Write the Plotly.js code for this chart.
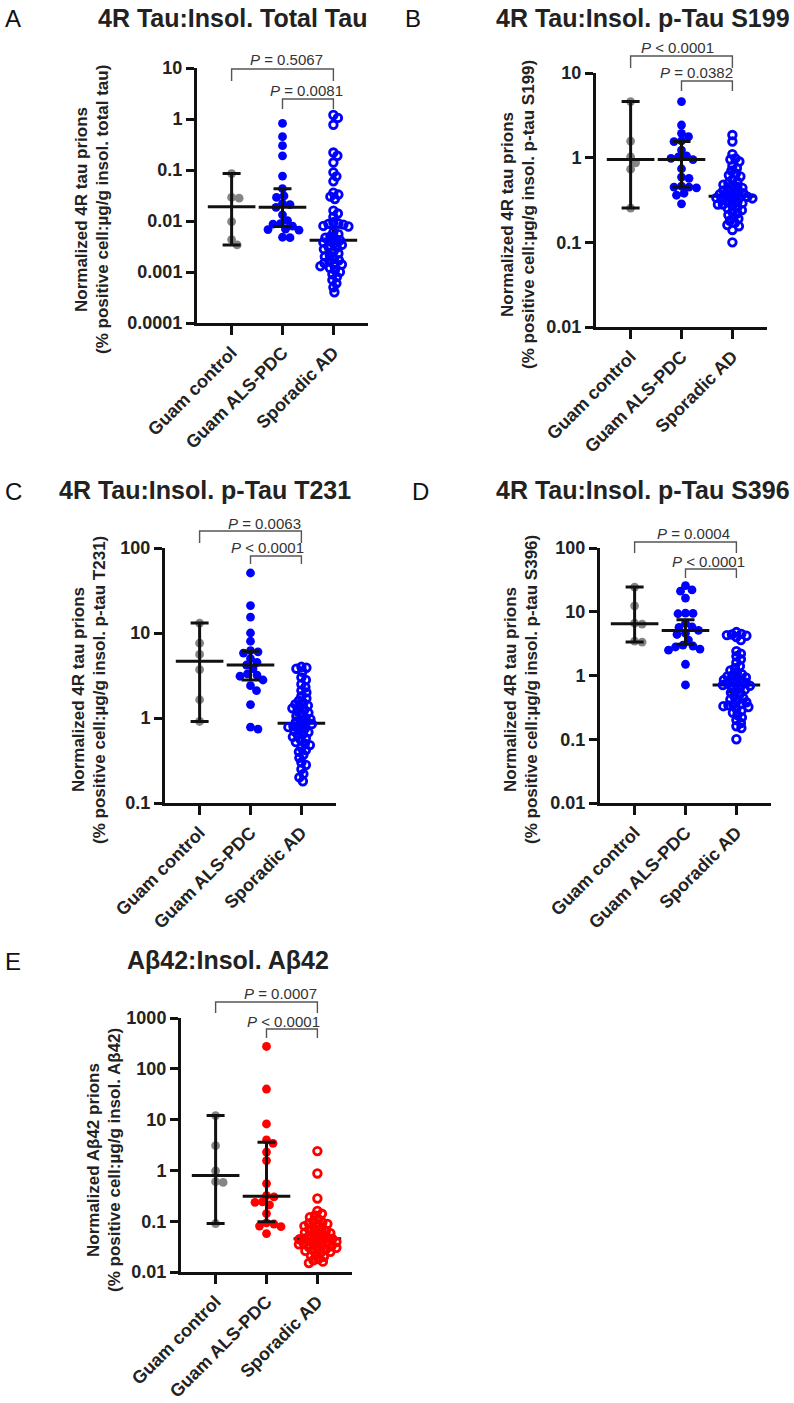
<!DOCTYPE html>
<html>
<head>
<meta charset="utf-8">
<script src="https://cdn.plot.ly/plotly-3.0.1.min.js"></script>
<style>html,body{margin:0;padding:0;background:#fff;}#chart{width:794px;height:1403px;}</style>
</head>
<body>
<div id="chart"></div>
<script>
// ---------------- DATA ----------------
const categories = ['Guam control', 'Guam ALS-PDC', 'Sporadic AD'];

const titles = ['4R Tau:Insol. Total Tau', '4R Tau:Insol. p-Tau S199', '4R Tau:Insol. p-Tau T231', '4R Tau:Insol. p-Tau S396', 'A\u03b242:Insol. A\u03b242'];
const letters = ['A', 'B', 'C', 'D', 'E'];
const yTitle1 = ['Normalized 4R tau prions', 'Normalized 4R tau prions', 'Normalized 4R tau prions', 'Normalized 4R tau prions', 'Normalized A\u03b242 prions'];
const yTitle2 = ['(% positive cell:\u00b5g/g insol. total tau)', '(% positive cell:\u00b5g/g insol. p-tau S199)', '(% positive cell:\u00b5g/g insol. p-tau T231)', '(% positive cell:\u00b5g/g insol. p-tau S396)', '(% positive cell:\u00b5g/g insol. A\u03b242)'];

// tick values / labels
const A_ticks = [0.0001, 0.001, 0.01, 0.1, 1, 10];
const A_tickText = ['0.0001', '0.001', '0.01', '0.1', '1', '10'];
const B_ticks = [0.01, 0.1, 1, 10];
const B_tickText = ['0.01', '0.1', '1', '10'];
const C_ticks = [0.1, 1, 10, 100];
const C_tickText = ['0.1', '1', '10', '100'];
const D_ticks = [0.01, 0.1, 1, 10, 100];
const D_tickText = ['0.01', '0.1', '1', '10', '100'];
const E_ticks = [0.01, 0.1, 1, 10, 100, 1000];
const E_tickText = ['0.01', '0.1', '1', '10', '100', '1000'];

// Panel A
const A_control = [0.085, 0.029, 0.028, 0.0097, 0.0043, 0.0034];
const A_als = [0.82, 0.45, 0.30, 0.19, 0.076, 0.043, 0.031, 0.029, 0.022, 0.021, 0.0185, 0.0132, 0.0102, 0.0089, 0.0087, 0.0079, 0.0069, 0.0068, 0.0066, 0.0048, 0.0047];
const A_ad = [1.2, 1.05, 0.77, 0.22, 0.19, 0.14, 0.09, 0.075, 0.06, 0.036, 0.033, 0.03, 0.027, 0.016, 0.014, 0.012, 0.0095, 0.009, 0.0088, 0.0085, 0.008, 0.0078, 0.006, 0.0055, 0.005, 0.0047, 0.0045, 0.0042,
  0.004, 0.0038, 0.0036, 0.0034, 0.0032, 0.003, 0.0028, 0.0025, 0.0023, 0.0021, 0.002, 0.0018, 0.0017, 0.0016, 0.0015, 0.0014, 0.0014, 0.0013, 0.0012, 0.0011, 0.001, 0.0009, 0.0008, 0.0007, 0.0006, 0.0005, 0.0004];
const A_median = [0.019, 0.0185, 0.0042];
const A_low = [0.0034, 0.0078, 0.0028];
const A_high = [0.085, 0.043, 0.0075];
const A_pvals = ['= 0.5067', '= 0.0081'];

// Panel B
const B_control = [4.6, 1.57, 1.02, 0.87, 0.73, 0.254];
const B_als = [4.6, 2.43, 1.94, 1.77, 1.58, 1.55, 1.23, 1.05, 1.02, 0.98, 0.95, 0.74, 0.59, 0.57, 0.46, 0.45, 0.45, 0.44, 0.38, 0.36, 0.285];
const B_ad = [1.85, 1.55, 1.1, 0.98, 0.95, 0.9, 0.8, 0.75, 0.7, 0.65, 0.62, 0.6, 0.55, 0.52, 0.5, 0.48, 0.46, 0.45, 0.44, 0.42, 0.41, 0.4, 0.39, 0.38, 0.37, 0.36, 0.355,
  0.35, 0.345, 0.34, 0.335, 0.33, 0.32, 0.31, 0.3, 0.3, 0.29, 0.28, 0.28, 0.27, 0.26, 0.25, 0.24, 0.23, 0.22, 0.21, 0.2, 0.19, 0.18, 0.17, 0.16, 0.155, 0.14, 0.1];
const B_median = [0.95, 0.95, 0.35];
const B_low = [0.254, 0.45, 0.31];
const B_high = [4.6, 1.55, 0.40];
const B_pvals = ['< 0.0001', '= 0.0382'];

// Panel C
const C_control = [13.1, 7.6, 5.6, 3.7, 1.64, 0.91];
const C_als = [50.8, 21, 15.4, 10, 8.0, 6.2, 6.0, 5.8, 5.0, 4.5, 4.2, 3.8, 3.3, 3.2, 3.1, 2.8, 2.4, 2.1, 1.44, 0.78, 0.74];
const C_ad = [4.0, 3.9, 3.8, 3.5, 3.0, 2.8, 2.5, 2.3, 2.1, 2.0, 1.8, 1.7, 1.6, 1.5, 1.45, 1.4, 1.35, 1.3, 1.25, 1.2, 1.15, 1.1, 1.05, 1.0, 0.97, 0.94, 0.9, 0.87,
  0.85, 0.82, 0.8, 0.78, 0.75, 0.72, 0.7, 0.68, 0.65, 0.63, 0.6, 0.58, 0.55, 0.52, 0.5, 0.48, 0.45, 0.42, 0.4, 0.37, 0.34, 0.3, 0.28, 0.25, 0.22, 0.2, 0.18];
const C_median = [4.65, 4.2, 0.87];
const C_low = [0.91, 2.8, 0.75];
const C_high = [13.1, 6.1, 1.0];
const C_pvals = ['= 0.0063', '< 0.0001'];

// Panel D
const D_control = [24.4, 12.4, 6.6, 6.4, 3.45, 3.35];
const D_als = [25.6, 22, 21, 16.4, 9.5, 9.4, 9.3, 6.6, 5.8, 5.7, 5.1, 4.6, 4.4, 3.6, 3.0, 2.9, 2.8, 2.6, 2.5, 1.5, 0.71];
const D_ad = [4.8, 4.5, 4.4, 4.3, 4.2, 4.0, 3.6, 2.4, 2.2, 2.0, 1.8, 1.6, 1.4, 1.3, 1.2, 1.1, 1.05, 1.0, 0.97, 0.93, 0.9, 0.85, 0.82, 0.8, 0.77, 0.75, 0.73, 0.71,
  0.69, 0.67, 0.64, 0.6, 0.57, 0.54, 0.5, 0.47, 0.44, 0.42, 0.4, 0.38, 0.36, 0.35, 0.34, 0.33, 0.32, 0.3, 0.28, 0.26, 0.24, 0.22, 0.2, 0.18, 0.16, 0.15, 0.1];
const D_median = [6.5, 5.1, 0.71];
const D_low = [3.35, 3.1, 0.55];
const D_high = [24.4, 7.5, 0.9];
const D_pvals = ['= 0.0004', '< 0.0001'];

// Panel E
const E_control = [12, 3.07, 0.98, 0.6, 0.58, 0.09];
const E_als = [275, 40, 8.2, 4.0, 3.4, 2.3, 1.56, 0.55, 0.32, 0.30, 0.24, 0.235, 0.21, 0.141, 0.093, 0.088, 0.08, 0.078, 0.057];
const E_ad = [2.4, 0.87, 0.28, 0.16, 0.14, 0.13, 0.12, 0.11, 0.1, 0.095, 0.09, 0.088, 0.085, 0.08, 0.075, 0.07, 0.068, 0.065, 0.062, 0.06, 0.058, 0.055, 0.053, 0.05, 0.048, 0.047, 0.046,
  0.045, 0.044, 0.043, 0.042, 0.04, 0.039, 0.038, 0.037, 0.036, 0.035, 0.034, 0.033, 0.032, 0.031, 0.03, 0.029, 0.028, 0.027, 0.026, 0.025, 0.024, 0.022, 0.021, 0.02, 0.018, 0.017, 0.016, 0.015];
const E_median = [0.79, 0.31, 0.045];
const E_low = [0.09, 0.098, 0.037];
const E_high = [12, 3.6, 0.055];
const E_pvals = ['= 0.0007', '< 0.0001'];

// ---------------- LAYOUT / STYLE ----------------
const W = 794, H = 1403;
const FONT = 'Liberation Sans, Arial, Helvetica, sans-serif';
const XR = [-0.68, 2.68];
const PW = 171;               // plot width px
const PXU = PW / (XR[1] - XR[0]);
const groupColors = ['#858585', '#0000ff', '#0000ff'];
const groupColorsE = ['#858585', '#ff0000', '#ff0000'];

const panels = [
  {data: [A_control, A_als, A_ad], med: A_median, lo: A_low, hi: A_high, ticks: A_ticks, tickText: A_tickText, pv: A_pvals,
   l: 197, top: 68, bottom: 323, colors: groupColors,
   titlePos: [233, 18], letterPos: [13, 19], yt: [82, 103, 210],
   br: [{a: 0, b: 2, line: 69, drop: 81, tx: 286, ty: 60}, {a: 1, b: 2, line: 99, drop: 109, tx: 306, ty: 90}]},
  {data: [B_control, B_als, B_ad], med: B_median, lo: B_low, hi: B_high, ticks: B_ticks, tickText: B_tickText, pv: B_pvals,
   l: 596, top: 73, bottom: 327, colors: groupColors,
   titlePos: [643, 18], letterPos: [413, 19], yt: [507, 528, 215],
   br: [{a: 0, b: 2, line: 56, drop: 68, tx: 677, ty: 47}, {a: 1, b: 2, line: 81, drop: 91, tx: 696, ty: 73}]},
  {data: [C_control, C_als, C_ad], med: C_median, lo: C_low, hi: C_high, ticks: C_ticks, tickText: C_tickText, pv: C_pvals,
   l: 165, top: 548, bottom: 803, colors: groupColors,
   titlePos: [205, 490], letterPos: [13, 491], yt: [78, 99, 690],
   br: [{a: 0, b: 2, line: 531, drop: 543, tx: 264, ty: 523}, {a: 1, b: 2, line: 556, drop: 564, tx: 267, ty: 548}]},
  {data: [D_control, D_als, D_ad], med: D_median, lo: D_low, hi: D_high, ticks: D_ticks, tickText: D_tickText, pv: D_pvals,
   l: 600, top: 548, bottom: 803, colors: groupColors,
   titlePos: [643, 490], letterPos: [420, 491], yt: [510, 531, 690],
   br: [{a: 0, b: 2, line: 542, drop: 553, tx: 693, ty: 533}, {a: 1, b: 2, line: 569, drop: 578, tx: 708, ty: 561}]},
  {data: [E_control, E_als, E_ad], med: E_median, lo: E_low, hi: E_high, ticks: E_ticks, tickText: E_tickText, pv: E_pvals,
   l: 181, top: 1018, bottom: 1272, colors: groupColorsE,
   titlePos: [228, 960], letterPos: [13, 961], yt: [93, 114, 1160],
   br: [{a: 0, b: 2, line: 1002, drop: 1013, tx: 280, ty: 993}, {a: 1, b: 2, line: 1029, drop: 1038, tx: 283, ty: 1021}]}
];

// beeswarm offsets computed from values in pixel space
function swarm(values, yr, hPx, diam) {
  const pts = values.map((v, i) => ({i: i, py: (Math.log10(v) - yr[0]) / (yr[1] - yr[0]) * hPx}));
  pts.sort((a, b) => b.py - a.py);
  const placed = [];
  const off = new Array(values.length);
  for (const p of pts) {
    let best = 0;
    for (let k = 0; k < 800; k++) {
      const x = Math.ceil(k / 2) * 0.5 * (k % 2 ? 1 : -1);
      let ok = true;
      for (const q of placed) {
        const dx = x - q.x, dy = p.py - q.py;
        if (dx * dx + dy * dy < diam * diam - 0.01) { ok = false; break; }
      }
      if (ok) { best = x; break; }
    }
    placed.push({x: best, py: p.py});
    off[p.i] = best / PXU;
  }
  return off;
}

const traces = [];
const layout = {
  width: W, height: H, margin: {l: 0, r: 0, t: 0, b: 0},
  paper_bgcolor: '#ffffff', plot_bgcolor: 'rgba(0,0,0,0)', showlegend: false,
  font: {family: FONT, color: '#1a1a1a'},
  annotations: [], shapes: []
};

panels.forEach((p, k) => {
  const s = k === 0 ? '' : String(k + 1);
  const yr = [Math.log10(p.ticks[0]), Math.log10(p.ticks[p.ticks.length - 1])];
  const hPx = p.bottom - p.top;
  layout['xaxis' + s] = {
    domain: [p.l / W, (p.l + PW) / W], range: XR, anchor: 'y' + s,
    tickmode: 'array', tickvals: [0, 1, 2], ticktext: categories, tickangle: -45,
    showline: true, linewidth: 3, linecolor: '#111', ticks: 'outside', ticklen: 9, tickwidth: 3, tickcolor: '#111',
    showgrid: false, zeroline: false, fixedrange: true,
    tickfont: {family: FONT, size: 18, color: '#222', weight: 'bold'}
  };
  layout['yaxis' + s] = {
    domain: [1 - p.bottom / H, 1 - p.top / H], type: 'log', range: yr, anchor: 'x' + s,
    tickmode: 'array', tickvals: p.ticks, ticktext: p.tickText,
    showline: true, linewidth: 3, linecolor: '#111', ticks: 'outside', ticklen: 8, tickwidth: 3, tickcolor: '#111',
    showgrid: false, zeroline: false, fixedrange: true,
    tickfont: {family: FONT, size: 18, color: '#222', weight: 'bold'}
  };
  const pointTrace = (g) => {
    const vals = p.data[g];
    const hollow = g === 2;
    const off = swarm(vals, yr, hPx, hollow ? 5.0 : 7.4);
    return {
      type: 'scatter', mode: 'markers', xaxis: 'x' + s, yaxis: 'y' + s,
      x: vals.map((v, i) => g + off[i]), y: vals, hoverinfo: 'y',
      marker: hollow
        ? {symbol: 'circle-open', size: 7.6, color: p.colors[g], line: {width: 2.8, color: p.colors[g]}}
        : {symbol: 'circle', size: 8.8, color: p.colors[g], line: {width: 0}}
    };
  };
  traces.push(pointTrace(0));
  traces.push(pointTrace(1));
  // median + interval
  traces.push({
    type: 'scatter', mode: 'markers', xaxis: 'x' + s, yaxis: 'y' + s,
    x: [0, 1, 2], y: p.med, hoverinfo: 'y',
    marker: {symbol: 'line-ew', size: 34, color: '#111', line: {width: 3, color: '#111'}},
    error_y: {type: 'data', symmetric: false, array: p.hi.map((h, i) => h - p.med[i]), arrayminus: p.lo.map((l, i) => p.med[i] - l),
      color: '#111', thickness: 3, width: 9}
  });
  traces.push(pointTrace(2));
  // title, letter, y titles
  layout.annotations.push({xref: 'paper', yref: 'paper', x: p.titlePos[0] / W, y: 1 - p.titlePos[1] / H, xanchor: 'center', yanchor: 'middle',
    text: '<b>' + titles[k] + '</b>', showarrow: false, font: {family: FONT, size: 25, color: '#222'}});
  layout.annotations.push({xref: 'paper', yref: 'paper', x: p.letterPos[0] / W, y: 1 - p.letterPos[1] / H, xanchor: 'center', yanchor: 'middle',
    text: letters[k], showarrow: false, font: {family: FONT, size: 24, color: '#111'}});
  layout.annotations.push({xref: 'paper', yref: 'paper', x: p.yt[0] / W, y: 1 - p.yt[2] / H, xanchor: 'center', yanchor: 'middle', textangle: -90,
    text: '<b>' + yTitle1[k] + '</b>', showarrow: false, font: {family: FONT, size: 17, color: '#222'}});
  layout.annotations.push({xref: 'paper', yref: 'paper', x: p.yt[1] / W, y: 1 - p.yt[2] / H, xanchor: 'center', yanchor: 'middle', textangle: -90,
    text: '<b>' + yTitle2[k] + '</b>', showarrow: false, font: {family: FONT, size: 17, color: '#222'}});
  // comparison brackets
  const catX = i => (p.l + (i - XR[0]) * PXU) / W;
  p.br.forEach((b, j) => {
    const xa = catX(b.a), xb = catX(b.b);
    const yl = 1 - b.line / H, yd = 1 - b.drop / H;
    layout.shapes.push({type: 'path', xref: 'paper', yref: 'paper',
      path: 'M' + xa + ',' + yd + 'L' + xa + ',' + yl + 'L' + xb + ',' + yl + 'L' + xb + ',' + yd,
      line: {color: '#555', width: 1.4}});
    layout.annotations.push({xref: 'paper', yref: 'paper', x: b.tx / W, y: 1 - b.ty / H, xanchor: 'center', yanchor: 'middle',
      text: '<i>P</i> ' + p.pv[j], showarrow: false, font: {family: FONT, size: 15, color: '#333'}});
  });
});

Plotly.newPlot('chart', traces, layout, {staticPlot: true, displayModeBar: false});
</script>
</body>
</html>
